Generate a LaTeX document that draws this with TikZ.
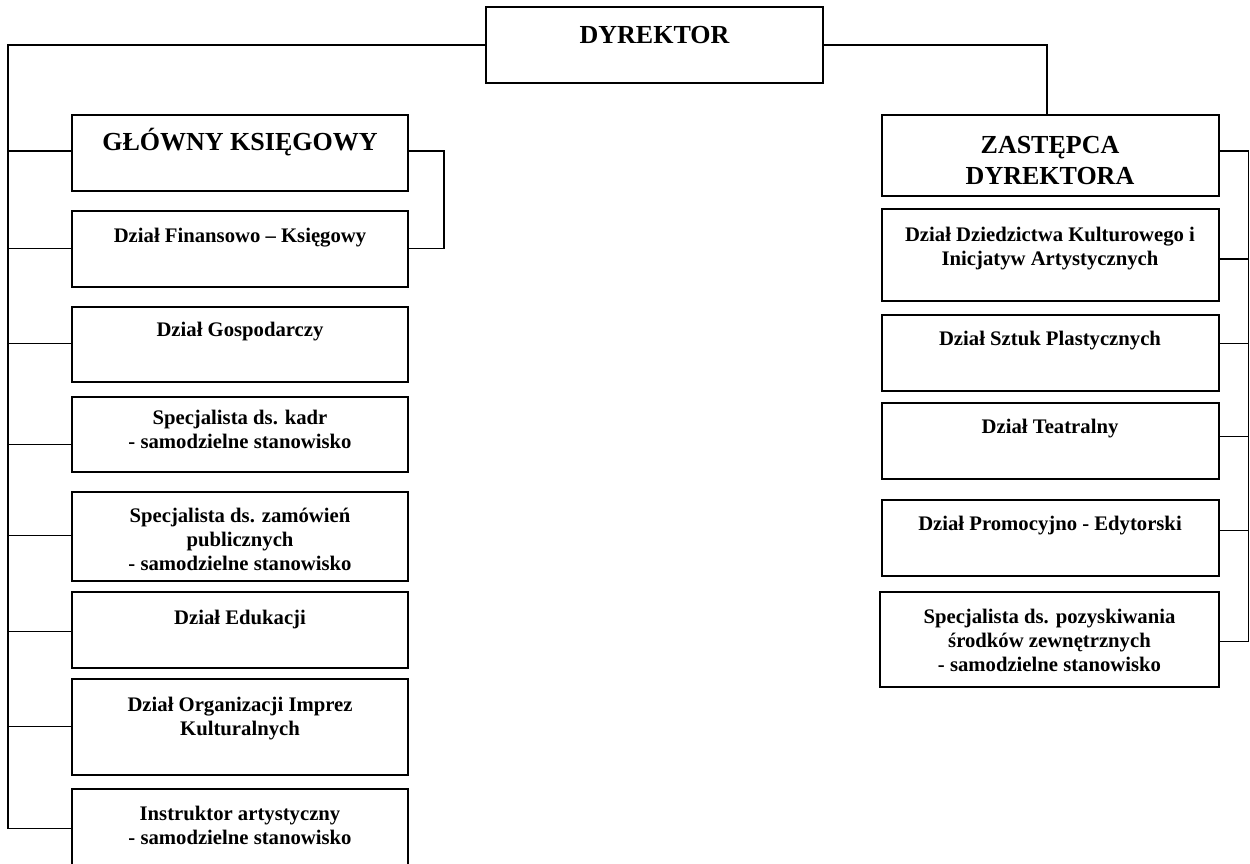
\documentclass[tikz,border=0pt]{standalone}
\usepackage{fontspec}
\setmainfont{Liberation Serif}
\newcommand\hdstrut{\rule{0pt}{26pt}}
\newcommand\smstrut{\rule{0pt}{20pt}}
\begin{document}
\begin{tikzpicture}[x=1pt,y=-1pt,
  box/.style={draw, line width=2pt, inner sep=0pt, outer sep=0pt, minimum width=336pt},
  hd/.style={font=\bfseries\fontsize{26}{31}\selectfont, align=center, inner sep=0pt, outer sep=0pt, anchor=north},
  sm/.style={font=\bfseries\fontsize{20.7}{24}\selectfont, align=center, inner sep=0pt, outer sep=0pt, anchor=north},
  conn/.style={line width=1.4pt}]
\useasboundingbox (0,0) rectangle (1250,864);
\clip (0,0) rectangle (1250,864);

% top
\node[box, minimum width=337pt, minimum height=76pt] (dyr) at (654.5,45) {};
\node[hd] (dyrT) at ([yshift=-11pt]dyr.north) {\hdstrut DYREKTOR};

% left column
\node[box, minimum height=76pt] (gk) at (240,153) {};
\node[hd] (gkT) at ([yshift=-9.5pt]gk.north) {\hdstrut GŁÓWNY KSIĘGOWY};
\node[box, minimum height=76pt] (fin) at (240,249) {};
\node[sm] (finT) at ([yshift=-11pt]fin.north) {\smstrut Dział Finansowo – Księgowy};
\node[box, minimum height=75pt] (gosp) at (240,344.5) {};
\node[sm] (gospT) at ([yshift=-9.7pt]gosp.north) {\smstrut Dział Gospodarczy};
\node[box, minimum height=75pt] (kadr) at (240,434.5) {};
\node[sm] (kadrT) at ([yshift=-7.5pt]kadr.north) {\smstrut Specjalista ds. kadr\\- samodzielne stanowisko};
\node[box, minimum height=89.5pt] (zam) at (240,536.25) {};
\node[sm] (zamT) at ([yshift=-11pt]zam.north) {\smstrut Specjalista ds. zamówień\\publicznych\\- samodzielne stanowisko};
\node[box, minimum height=76pt] (edu) at (240,630) {};
\node[sm] (eduT) at ([yshift=-12.5pt]edu.north) {\smstrut Dział Edukacji};
\node[box, minimum height=96pt] (org) at (240,727) {};
\node[sm] (orgT) at ([yshift=-12.5pt]org.north) {\smstrut Dział Organizacji Imprez\\Kulturalnych};
\node[box, minimum height=91pt] (instr) at (240,834.5) {};
\node[sm] (instrT) at ([yshift=-11pt]instr.north) {\smstrut Instruktor artystyczny\\- samodzielne stanowisko};

% right column
\node[box, minimum width=337pt, minimum height=80.7pt] (zast) at (1050,155.35) {};
\node[hd] (zastT) at ([yshift=-12pt]zast.north) {\hdstrut ZASTĘPCA\\DYREKTORA};
\node[box, minimum width=337pt, minimum height=91.7pt] (dzied) at (1050,254.85) {};
\node[sm] (dziedT) at ([yshift=-12.4pt]dzied.north) {\smstrut Dział Dziedzictwa Kulturowego i\\Inicjatyw Artystycznych};
\node[box, minimum width=337pt, minimum height=75.7pt] (sztuk) at (1050,352.85) {};
\node[sm] (sztukT) at ([yshift=-10.4pt]sztuk.north) {\smstrut Dział Sztuk Plastycznych};
\node[box, minimum width=337pt, minimum height=76pt] (teatr) at (1050,441.3) {};
\node[sm] (teatrT) at ([yshift=-10.4pt]teatr.north) {\smstrut Dział Teatralny};
\node[box, minimum width=337pt, minimum height=76pt] (prom) at (1050,538) {};
\node[sm] (promT) at ([yshift=-10.4pt]prom.north) {\smstrut Dział Promocyjno - Edytorski};
\node[box, minimum width=339pt, minimum height=95pt] (poz) at (1049.5,639.2) {};
\node[sm] (pozT) at ([yshift=-12pt]poz.north) {\smstrut Specjalista ds. pozyskiwania\\środków zewnętrznych\\- samodzielne stanowisko};

% trunk coordinates
\coordinate (lt) at (8,45);
\coordinate (lb) at (8,828.3);
\coordinate (rt) at (1248.3,151);
\coordinate (rb) at (1248.3,641.5);

% left connectors
\draw[conn] (dyr.west) -- (lt) -- (lb) -- (lb -| instr.west);
\draw[conn] (8,151) -- (gk.west |- 0,151);
\draw[conn] (8,248.7) -- (fin.west |- 0,248.7);
\draw[conn] (8,343.3) -- (gosp.west |- 0,343.3);
\draw[conn] (8,444.3) -- (kadr.west |- 0,444.3);
\draw[conn] (8,535.7) -- (zam.west |- 0,535.7);
\draw[conn] (8,631.7) -- (edu.west |- 0,631.7);
\draw[conn] (8,726.7) -- (org.west |- 0,726.7);
% GK bracket
\draw[conn] (gk.east |- 0,151) -- (444,151) -- (444,248.7) -- (fin.east |- 0,248.7);

% right connectors
\draw[conn] (dyr.east) -- (1047,45) -- (1047,0 |- zast.north);
\draw[conn] (zast.east |- rt) -- (rt) -- (rb) -- (poz.east |- rb);
\draw[conn] (dzied.east |- 0,259) -- (1248.3,259);
\draw[conn] (sztuk.east |- 0,343.3) -- (1248.3,343.3);
\draw[conn] (teatr.east |- 0,436.7) -- (1248.3,436.7);
\draw[conn] (prom.east |- 0,530.7) -- (1248.3,530.7);
\end{tikzpicture}
\end{document}
